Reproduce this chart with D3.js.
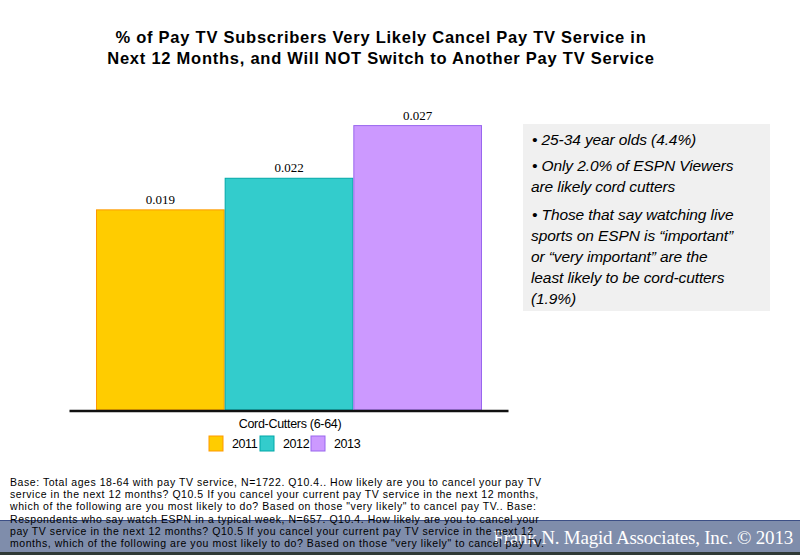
<!DOCTYPE html>
<html>
<head>
<meta charset="utf-8">
<script src="https://cdn.jsdelivr.net/npm/d3@7"></script>
<style>
  body { margin: 0; background: #fff; }
  svg { display: block; }
</style>
</head>
<body>
<div id="chart"></div>
<script>
(function () {

    // data
    const years = ['2011', '2012', '2013'];
    const values = [0.019, 0.022, 0.027];
    const category = 'Cord-Cutters (6-64)';
    const fills = ['#ffcc00', '#33cccc', '#cc99ff'];
    const strokes = ['#ff9900', '#00a8a8', '#9966ee'];

    const titleLines = [
        '% of Pay TV Subscribers Very Likely Cancel Pay TV Service in',
        'Next 12 Months, and Will NOT Switch to Another Pay TV Service'
    ];

    const noteLines = [
        '• 25-34 year olds (4.4%)',
        '• Only 2.0% of ESPN Viewers',
        'are likely cord cutters',
        '• Those that say watching live',
        'sports on ESPN is “important”',
        'or “very important” are the',
        'least likely to be cord-cutters',
        '(1.9%)'
    ];
    const noteY = [145, 171, 192, 220, 241, 262, 283, 304];

    const baseLines = [
        'Base: Total ages 18-64 with pay TV service, N=1722. Q10.4.. How likely are you to cancel your pay TV',
        'service in the next 12 months? Q10.5 If you cancel your current pay TV service in the next 12 months,',
        'which of the following are you most likely to do? Based on those "very likely" to cancel pay TV.. Base:',
        'Respondents who say watch ESPN in a typical week, N=657. Q10.4. How likely are you to cancel your',
        'pay TV service in the next 12 months? Q10.5 If you cancel your current pay TV service in the next 12',
        'months, which of the following are you most likely to do? Based on those "very likely" to cancel pay TV.'
    ];

    const svg = d3.select('#chart')
        .append('svg')
        .attr('width', 800)
        .attr('height', 555);

    // footer band
    svg.append('rect')
        .attr('x', 0).attr('y', 520)
        .attr('width', 800).attr('height', 32)
        .attr('fill', '#7f8dab');
    svg.append('line')
        .attr('x1', 0).attr('x2', 800)
        .attr('y1', 520.5).attr('y2', 520.5)
        .attr('stroke', '#3c4f86').attr('stroke-width', 1);
    svg.append('rect')
        .attr('x', 0).attr('y', 552)
        .attr('width', 800).attr('height', 3)
        .attr('fill', '#2f3a36');
    svg.append('text')
        .attr('x', 793).attr('y', 544)
        .attr('text-anchor', 'end')
        .attr('font-family', '"Liberation Serif", "DejaVu Serif", serif')
        .attr('font-size', 19)
        .attr('letter-spacing', -0.2)
        .attr('fill', '#ffffff')
        .text('Frank N. Magid Associates, Inc. © 2013');

    // title
    svg.append('g')
        .selectAll('text')
        .data(titleLines)
        .enter()
        .append('text')
        .attr('x', 381)
        .attr('y', (d, i) => 43 + i * 21)
        .attr('text-anchor', 'middle')
        .attr('font-family', '"Liberation Sans", Arial, sans-serif')
        .attr('font-weight', 'bold')
        .attr('font-size', 16.5)
        .attr('letter-spacing', 0.75)
        .text(d => d);

    // scales
    const x = d3.scaleBand()
        .domain(years)
        .range([96, 482])
        .padding(0);

    const y = d3.scaleLinear()
        .domain([0, 0.03])
        .range([410, 94]);

    // bars
    svg.append('g')
        .selectAll('rect')
        .data(values)
        .enter()
        .append('rect')
        .attr('x', (d, i) => x(years[i]) + 0.5)
        .attr('y', d => y(d))
        .attr('width', x.bandwidth() - 1)
        .attr('height', d => y(0) - y(d))
        .attr('fill', (d, i) => fills[i])
        .attr('stroke', (d, i) => strokes[i])
        .attr('stroke-width', 1);

    // value labels
    svg.append('g')
        .selectAll('text')
        .data(values)
        .enter()
        .append('text')
        .attr('x', (d, i) => x(years[i]) + x.bandwidth() / 2)
        .attr('y', d => y(d) - 6)
        .attr('text-anchor', 'middle')
        .attr('font-family', '"Liberation Serif", serif')
        .attr('font-size', 13)
        .text(d => d3.format('.3f')(d));

    // baseline axis
    const axis = svg.append('g')
        .attr('transform', 'translate(0, 410.5)')
        .call(d3.axisBottom(d3.scaleLinear().range([69, 508])).ticks(0).tickSizeOuter(0));
    axis.select('.domain').attr('stroke', '#111').attr('stroke-width', 2.5);

    svg.append('text')
        .attr('x', 290).attr('y', 428)
        .attr('text-anchor', 'middle')
        .attr('font-family', '"Liberation Sans", Arial, sans-serif')
        .attr('font-size', 12.5)
        .attr('letter-spacing', -0.3)
        .text(category);

    // legend
    const legendX = [209, 260, 311];
    const legend = svg.append('g')
        .selectAll('g')
        .data(years)
        .enter()
        .append('g')
        .attr('transform', (d, i) => `translate(${legendX[i]}, 436)`);
    legend.append('rect')
        .attr('width', 14).attr('height', 15)
        .attr('fill', (d, i) => fills[i])
        .attr('stroke', (d, i) => strokes[i]);
    legend.append('text')
        .attr('x', 23)
        .attr('y', 12)
        .attr('font-family', '"Liberation Sans", Arial, sans-serif')
        .attr('font-size', 12.5)
        .attr('letter-spacing', -0.4)
        .text(d => d);

    // note box
    svg.append('rect')
        .attr('x', 523).attr('y', 124)
        .attr('width', 247).attr('height', 187)
        .attr('fill', '#f0f0f0');
    svg.append('g')
        .selectAll('text')
        .data(noteLines)
        .enter()
        .append('text')
        .attr('x', (d, i) => d.startsWith('•') ? 532 : 531)
        .attr('y', (d, i) => noteY[i])
        .attr('font-family', '"Liberation Sans", Arial, sans-serif')
        .attr('font-style', 'italic')
        .attr('font-size', 15.5)
        .attr('letter-spacing', -0.1)
        .text(d => d);

    // base note
    svg.append('g')
        .selectAll('text')
        .data(baseLines)
        .enter()
        .append('text')
        .attr('x', 10)
        .attr('y', (d, i) => 486 + i * 12.2)
        .attr('font-family', '"Liberation Sans", Arial, sans-serif')
        .attr('font-size', 10.5)
        .attr('letter-spacing', 0.55)
        .text(d => d);

})();
</script>
</body>
</html>
